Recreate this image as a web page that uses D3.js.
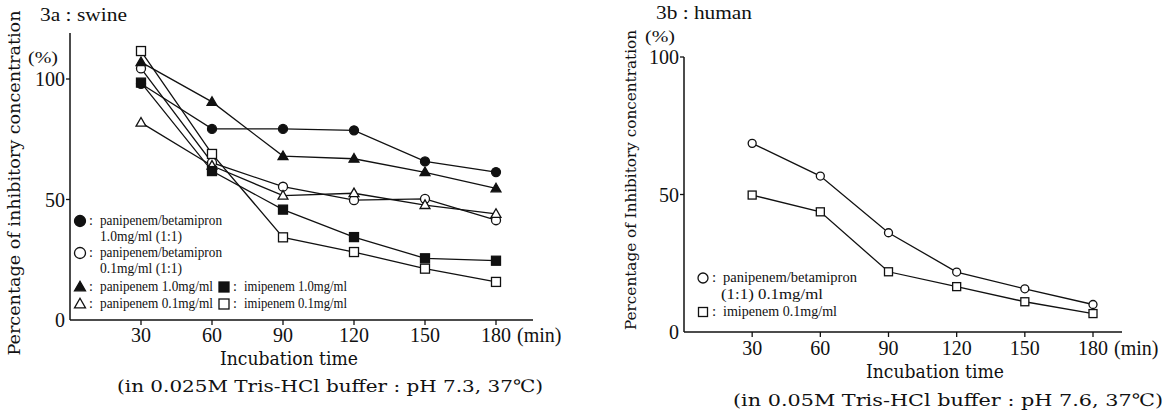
<!DOCTYPE html>
<html>
<head>
<meta charset="utf-8">
<script src="https://cdn.jsdelivr.net/npm/d3@7"></script>
<style>
  body { margin: 0; background: #fff; }
  text { fill: #111; }
</style>
</head>
<body>
<div id="chart"></div>
<script>
// ---- data ----
const times = [30, 60, 90, 120, 150, 180]
const xTicks = [30, 60, 90, 120, 150, 180]
const yTicks = [0, 50, 100]

// 3a swine
const swinePBHigh = [98, 79.3, 79.3, 78.7, 65.8, 61.4]
const swinePBLow = [104.4, 65.3, 55.3, 49.7, 50.3, 41.4]
const swinePaniHigh = [107, 90.5, 68, 66.9, 61.3, 54.6]
const swinePaniLow = [81.9, 64, 51.6, 52.6, 47.7, 44]
const swineImiHigh = [98.5, 61.8, 45.8, 34.4, 25.6, 24.6]
const swineImiLow = [111.6, 68.9, 34.3, 28.2, 21.3, 15.8]

// 3b human
const humanPB = [68.6, 56.7, 36.1, 21.8, 15.7, 10]
const humanImi = [49.8, 43.7, 21.9, 16.5, 11, 6.7]

const swineSeries = [
    { values: swinePBHigh, shape: 'circle', filled: true },
    { values: swinePBLow, shape: 'circle', filled: false },
    { values: swinePaniHigh, shape: 'triangle', filled: true },
    { values: swinePaniLow, shape: 'triangle', filled: false },
    { values: swineImiHigh, shape: 'square', filled: true },
    { values: swineImiLow, shape: 'square', filled: false }
]
const humanSeries = [
    { values: humanPB, shape: 'circle', filled: false },
    { values: humanImi, shape: 'square', filled: false }
]

const W = 1173, H = 419
const serif = '"DejaVu Serif", serif'
const narrow = '"Liberation Serif", serif'

const svg = d3.select('#chart').append('svg')
    .attr('width', W)
    .attr('height', H)

function marker(g, shape, filled, x, y, size) {
    let m
    if (shape === 'circle') {
        m = g.append('circle').attr('cx', x).attr('cy', y).attr('r', size / 2)
    } else if (shape === 'square') {
        m = g.append('rect').attr('x', x - size / 2).attr('y', y - size / 2)
            .attr('width', size).attr('height', size)
    } else {
        const s = size * 1.1
        const h = s * 0.87
        m = g.append('path')
            .attr('d', `M${x},${y - h * 0.6}L${x + s / 2},${y + h * 0.4}L${x - s / 2},${y + h * 0.4}Z`)
    }
    m.attr('fill', filled ? '#111' : '#fff')
        .attr('stroke', '#111')
        .attr('stroke-width', 1.3)
}

function fitText(g, x, y, str, family, size, len, anchor) {
    return g.append('text')
        .attr('x', x).attr('y', y)
        .attr('text-anchor', anchor || 'start')
        .attr('textLength', len)
        .attr('lengthAdjust', 'spacingAndGlyphs')
        .style('font-family', family)
        .style('font-size', size + 'px')
        .text(str)
}

function panel(opt) {
    const g = svg.append('g')

    const xScale = d3.scaleLinear().domain([0, 180]).range([opt.x0, opt.x180])
    const yScale = d3.scaleLinear().domain([0, 100]).range([opt.y0, opt.y100])

    // axes lines
    g.append('line')
        .attr('x1', opt.x0).attr('x2', opt.x0)
        .attr('y1', opt.y0).attr('y2', opt.yTop)
        .attr('stroke', '#111').attr('stroke-width', 1.5)
    g.append('line')
        .attr('x1', opt.x0).attr('x2', opt.xEnd)
        .attr('y1', opt.y0).attr('y2', opt.y0)
        .attr('stroke', '#111').attr('stroke-width', 1.5)

    // y ticks
    yTicks.forEach(t => {
        if (t > 0) {
            g.append('line')
                .attr('x1', opt.x0 - 4).attr('x2', opt.x0)
                .attr('y1', yScale(t)).attr('y2', yScale(t))
                .attr('stroke', '#111').attr('stroke-width', 1.3)
        }
        g.append('text')
            .attr('x', opt.x0 - 5)
            .attr('y', yScale(t) + 7)
            .attr('text-anchor', 'end')
            .style('font-family', narrow)
            .style('font-size', '20px')
            .text(t)
    })

    // x ticks
    xTicks.forEach(t => {
        g.append('line')
            .attr('x1', xScale(t)).attr('x2', xScale(t))
            .attr('y1', opt.y0).attr('y2', opt.y0 + 5)
            .attr('stroke', '#111').attr('stroke-width', 1.3)
        g.append('text')
            .attr('x', xScale(t))
            .attr('y', opt.tickY)
            .attr('text-anchor', 'middle')
            .style('font-family', narrow)
            .style('font-size', '20px')
            .text(t)
    })
    g.append('text')
        .attr('x', xScale(180) + 21)
        .attr('y', opt.tickY)
        .style('font-family', narrow)
        .style('font-size', '20px')
        .text('(min)')

    // titles and labels
    fitText(g, opt.titleX, opt.titleY, opt.title, narrow, 19, opt.titleLen)
    fitText(g, opt.pctX, opt.pctY, '(%)', narrow, 17, 30)
    g.append('text')
        .attr('transform', `translate(${opt.ylabX},${opt.ylabY}) rotate(-90)`)
        .attr('text-anchor', 'middle')
        .attr('textLength', opt.ylabLen)
        .attr('lengthAdjust', 'spacingAndGlyphs')
        .style('font-family', serif).style('font-size', opt.ylabSize + 'px')
        .text(opt.ylab)
    fitText(g, opt.xlabX, opt.xlabY, 'Incubation time', serif, 18, 138, 'middle')
    fitText(g, opt.capX, opt.capY, opt.caption, serif, 17, opt.capLen, 'middle')

    // lines
    const line = d3.line()
        .x((d, i) => xScale(times[i]))
        .y(d => yScale(d))
    opt.series.forEach(s => {
        g.append('path')
            .attr('d', line(s.values))
            .attr('fill', 'none')
            .attr('stroke', '#111')
            .attr('stroke-width', 1.3)
    })
    // markers (drawn after all lines)
    opt.series.forEach(s => {
        s.values.forEach((v, i) => {
            marker(g, s.shape, s.filled, xScale(times[i]), yScale(v), opt.mSize)
        })
    })

    return g
}

panel({
    x0: 70, x180: 496, xEnd: 533,
    y0: 320, y100: 79, yTop: 33,
    tickY: 342,
    title: '3a : swine', titleX: 40, titleY: 21, titleLen: 87,
    pctX: 28, pctY: 63,
    ylab: 'Percentage of inhibitory concentration', ylabX: 20, ylabY: 183, ylabLen: 345, ylabSize: 16,
    xlabX: 289, xlabY: 365,
    caption: '(in 0.025M Tris-HCl buffer : pH 7.3, 37\u2103)', capX: 330, capY: 392, capLen: 426,
    series: swineSeries, mSize: 9
})

panel({
    x0: 684, x180: 1093, xEnd: 1122,
    y0: 332, y100: 57, yTop: 57,
    tickY: 355,
    title: '3b : human', titleX: 656, titleY: 19, titleLen: 96,
    pctX: 645, pctY: 42,
    ylab: 'Percentage of Inhibitory concentration', ylabX: 636, ylabY: 180, ylabLen: 300, ylabSize: 14,
    xlabX: 935, xlabY: 378,
    caption: '(in 0.05M Tris-HCl buffer : pH 7.6, 37\u2103)', capX: 948, capY: 406, capLen: 430,
    series: humanSeries, mSize: 8
})

// ---- legends ----
function legendRow(g, mx, y, shape, filled, mSize, str, len, size) {
    marker(g, shape, filled, mx, y, mSize)
    g.append('text')
        .attr('x', mx + 9).attr('y', y + 4)
        .style('font-family', narrow)
        .style('font-size', size + 'px')
        .text(':')
    fitText(g, mx + 20, y + 4, str, narrow, size, len)
}

const la = svg.append('g')
legendRow(la, 80, 221, 'circle', true, 11, 'panipenem/betamipron', 122, 14)
fitText(la, 100, 241, '1.0mg/ml  (1:1)', narrow, 14, 82)
legendRow(la, 80, 253, 'circle', false, 11, 'panipenem/betamipron', 122, 14)
fitText(la, 100, 273, '0.1mg/ml  (1:1)', narrow, 14, 82)
legendRow(la, 80, 287, 'triangle', true, 10, 'panipenem 1.0mg/ml', 113, 14)
legendRow(la, 224, 287, 'square', true, 10, 'imipenem 1.0mg/ml', 103, 14)
legendRow(la, 80, 304, 'triangle', false, 10, 'panipenem 0.1mg/ml', 113, 14)
legendRow(la, 224, 304, 'square', false, 10, 'imipenem 0.1mg/ml', 103, 14)

const lb = svg.append('g')
legendRow(lb, 703, 278, 'circle', false, 10, 'panipenem/betamipron', 134, 15)
fitText(lb, 721, 299, '(1:1)  0.1mg/ml', narrow, 15, 102)
legendRow(lb, 703, 312, 'square', false, 9, 'imipenem 0.1mg/ml', 114, 15)
</script>
</body>
</html>
